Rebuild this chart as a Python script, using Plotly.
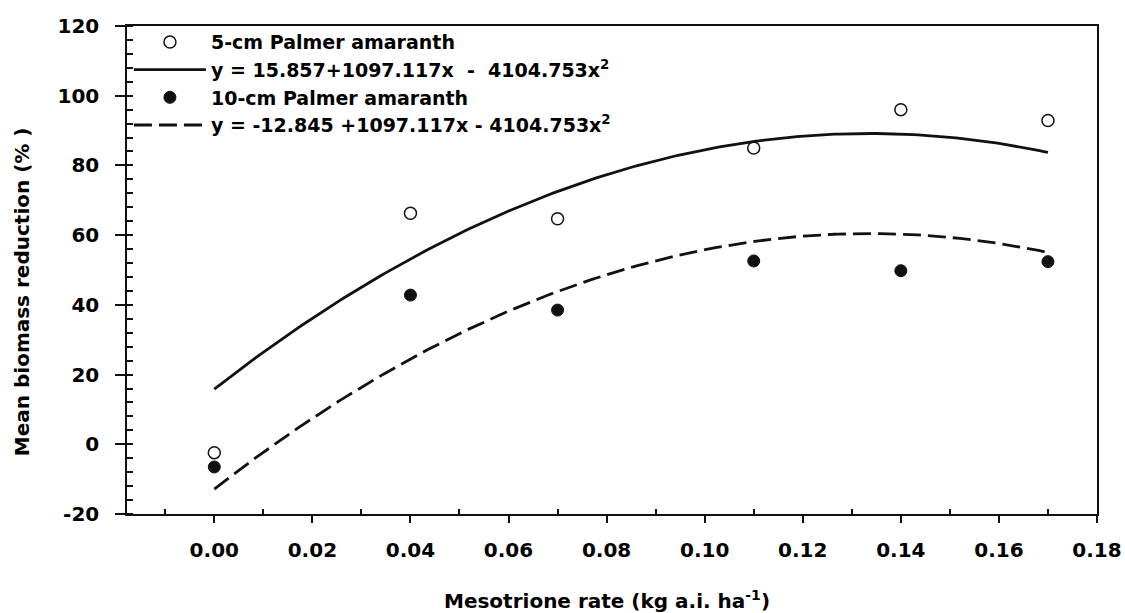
import numpy as np
import plotly.graph_objects as go

# ---- data ----
rates = [0.00, 0.04, 0.07, 0.11, 0.14, 0.17]
reduction_5cm = [-2.4, 66.3, 64.7, 85.0, 96.0, 92.9]
reduction_10cm = [-6.5, 42.8, 38.5, 52.6, 49.8, 52.4]

# regression coefficients printed in the legend: a + b*x + c*x^2
fit_5cm = [15.857, 1097.117, -4104.753]
fit_10cm = [-12.845, 1097.117, -4104.753]
fit_range = [0.0, 0.17]

label_5cm = "5-cm Palmer amaranth"
label_fit_5cm = "y = 15.857+1097.117x \u00a0-\u00a0 4104.753x<sup>2</sup>"
label_10cm = "10-cm Palmer amaranth"
label_fit_10cm = "y = -12.845 +1097.117x - 4104.753x<sup>2</sup>"

y_tick_vals = [-20, 0, 20, 40, 60, 80, 100, 120]
y_tick_text = ["-20", "0", "20", "40", "60", "80", "100", "120"]
x_minor_vals = [-0.01, 0.01, 0.03, 0.05, 0.07, 0.09, 0.11, 0.13, 0.15, 0.17]

x_title = "Mesotrione rate (kg a.i. ha<sup>-1</sup>)"
y_title = "Mean biomass reduction (% )"

# ---- build figure ----
xf = np.linspace(fit_range[0], fit_range[1], 200)
def quad(c, x):
    return c[0] + c[1] * x + c[2] * x ** 2

FONT = "DejaVu Sans"
INK = "#111111"

fig = go.Figure()
fig.add_trace(go.Scatter(
    x=rates, y=reduction_5cm, mode="markers", name=label_5cm,
    marker=dict(symbol="circle", size=12, color="white",
                line=dict(color=INK, width=1.5)),
))
fig.add_trace(go.Scatter(
    x=xf, y=quad(fit_5cm, xf), mode="lines", name=label_fit_5cm,
    line=dict(color=INK, width=2.8),
))
fig.add_trace(go.Scatter(
    x=rates, y=reduction_10cm, mode="markers", name=label_10cm,
    marker=dict(symbol="circle", size=12, color=INK,
                line=dict(color=INK, width=1)),
))
fig.add_trace(go.Scatter(
    x=xf, y=quad(fit_10cm, xf), mode="lines", name=label_fit_10cm,
    line=dict(color=INK, width=2.8, dash="18px,7px"),
))

fig.update_layout(
    width=1125, height=613,
    margin=dict(l=127, r=28, t=26, b=99, autoexpand=False),
    paper_bgcolor="white", plot_bgcolor="white",
    font=dict(family=FONT, size=20, color="black", weight="bold"),
    showlegend=True,
    legend=dict(
        x=0.002, y=1.006, xanchor="left", yanchor="top",
        bgcolor="rgba(0,0,0,0)", borderwidth=0,
        itemwidth=72, traceorder="normal",
        font=dict(family=FONT, size=19, color="black", weight="bold"),
        tracegroupgap=0,
    ),
    xaxis=dict(
        range=[-0.0178, 0.18], tick0=0, dtick=0.02, tickformat=".2f",
        automargin=False,
        showgrid=False, zeroline=False,
        showline=True, linecolor=INK, linewidth=1.5, mirror=True,
        ticks="outside", ticklen=7, tickwidth=1.5, tickcolor=INK,
        ticklabelstandoff=10,
        minor=dict(tickmode="array", tickvals=x_minor_vals, ticks="inside",
                   ticklen=5, tickwidth=1.5, tickcolor=INK, showgrid=False),
        tickfont=dict(family=FONT, size=20, color="black", weight="bold"),
    ),
    yaxis=dict(
        range=[-20, 120], tickmode="array", tickvals=y_tick_vals,
        ticktext=y_tick_text, automargin=False,
        showgrid=False, zeroline=False,
        showline=True, linecolor=INK, linewidth=1.5, mirror=True,
        ticks="outside", ticklen=10, tickwidth=1.5, tickcolor=INK,
        ticklabelstandoff=12,
        minor=dict(tick0=-20, dtick=4, ticks="inside", ticklen=6,
                   tickwidth=1.5, tickcolor=INK, showgrid=False),
        tickfont=dict(family=FONT, size=20, color="black", weight="bold"),
    ),
    annotations=[
        dict(text=x_title, xref="paper", yref="paper", x=0.495, y=-0.176,
             xanchor="center", yanchor="middle", showarrow=False,
             font=dict(family=FONT, size=20, color="black", weight="bold")),
        dict(text=y_title, xref="paper", yref="paper", x=-0.108, y=0.455,
             xanchor="center", yanchor="middle", textangle=-90,
             showarrow=False,
             font=dict(family=FONT, size=20, color="black", weight="bold")),
    ],
)

fig.write_html(
    "out.html",
    config={"displayModeBar": False},
    post_script="document.body.style.margin='0px';"
                "document.body.style.overflow='hidden';",
)
